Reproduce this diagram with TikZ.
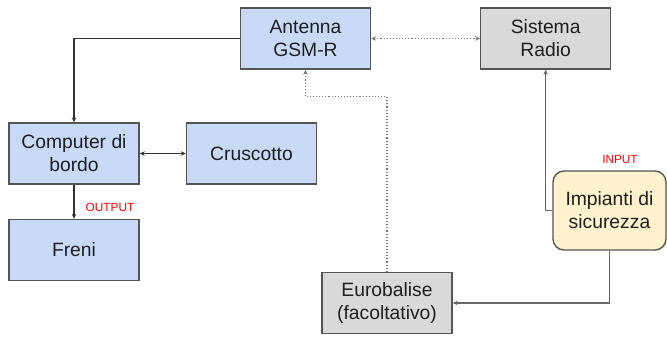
\documentclass[tikz,border=0pt]{standalone}
\usepackage{fontspec}
\setmainfont{Liberation Sans}
\usetikzlibrary{arrows.meta,calc}
\definecolor{boxblue}{HTML}{C9DAF8}
\definecolor{boxgray}{HTML}{D9D9D9}
\definecolor{boxyellow}{HTML}{FFF2CC}
\definecolor{edge}{HTML}{555555}
\definecolor{txt}{HTML}{1F1F1F}
\definecolor{wire}{HTML}{333333}
\definecolor{dotwire}{HTML}{777777}
\definecolor{graywire}{HTML}{666666}
\begin{document}
\begin{tikzpicture}[x=1pt,y=-1pt,
  base/.style={draw=edge,line width=1.4pt,text=txt,align=center,
    font=\fontsize{19.3}{23}\selectfont,inner sep=0pt,
    minimum width=130pt,minimum height=61pt},
  bluebox/.style={base,fill=boxblue},
  graybox/.style={base,fill=boxgray},
  yellowbox/.style={base,fill=boxyellow,rounded corners=11pt,
    minimum width=113pt,minimum height=79pt},
  tip/.style={-{Stealth[length=5pt,width=4.5pt]}},
  tips/.style={{Stealth[length=5pt,width=4.5pt]}-{Stealth[length=5pt,width=4.5pt]}},
  wireline/.style={draw=wire,line width=1.1pt},
  grayline/.style={draw=graywire,line width=1.4pt},
  dotline/.style={draw=dotwire,line width=1.1pt,dotted},
  tag/.style={text=red,font=\fontsize{11.8}{13}\selectfont,inner sep=0pt}]
\useasboundingbox (0,0) rectangle (667,338);
\node[bluebox] (ant) at (305.5,38.5) {Antenna\\GSM-R};
\node[graybox] (radio) at (545.7,38.5) {Sistema\\Radio};
\node[bluebox] (comp) at (74,153.5) {Computer di\\bordo};
\node[bluebox] (crus) at (251.5,153.5) {Cruscotto};
\node[bluebox] (freni) at (74,250) {Freni};
\node[graybox] (euro) at (387,303) {Eurobalise\\(facoltativo)};
\node[yellowbox] (imp) at (609.5,210.5) {Impianti di\\sicurezza};
\node[tag] (out) at (110,207) {OUTPUT};
\node[tag] (in) at (620,159) {INPUT};
\draw[wireline,tip] (ant.west) -| (comp.north);
\draw[wireline,tips] (comp.east) -- (crus.west);
\draw[wireline,tip] (comp.south) -- (freni.north);
\draw[dotline,tips] (ant.east) -- (radio.west);
\draw[dotline,tip] (euro.north) -- ++(0,-175) -| (ant.south);
\draw[grayline,tip] (imp.west) -| (radio.south);
\draw[grayline,tip] (imp.south) |- (euro.east);
\end{tikzpicture}
\end{document}
